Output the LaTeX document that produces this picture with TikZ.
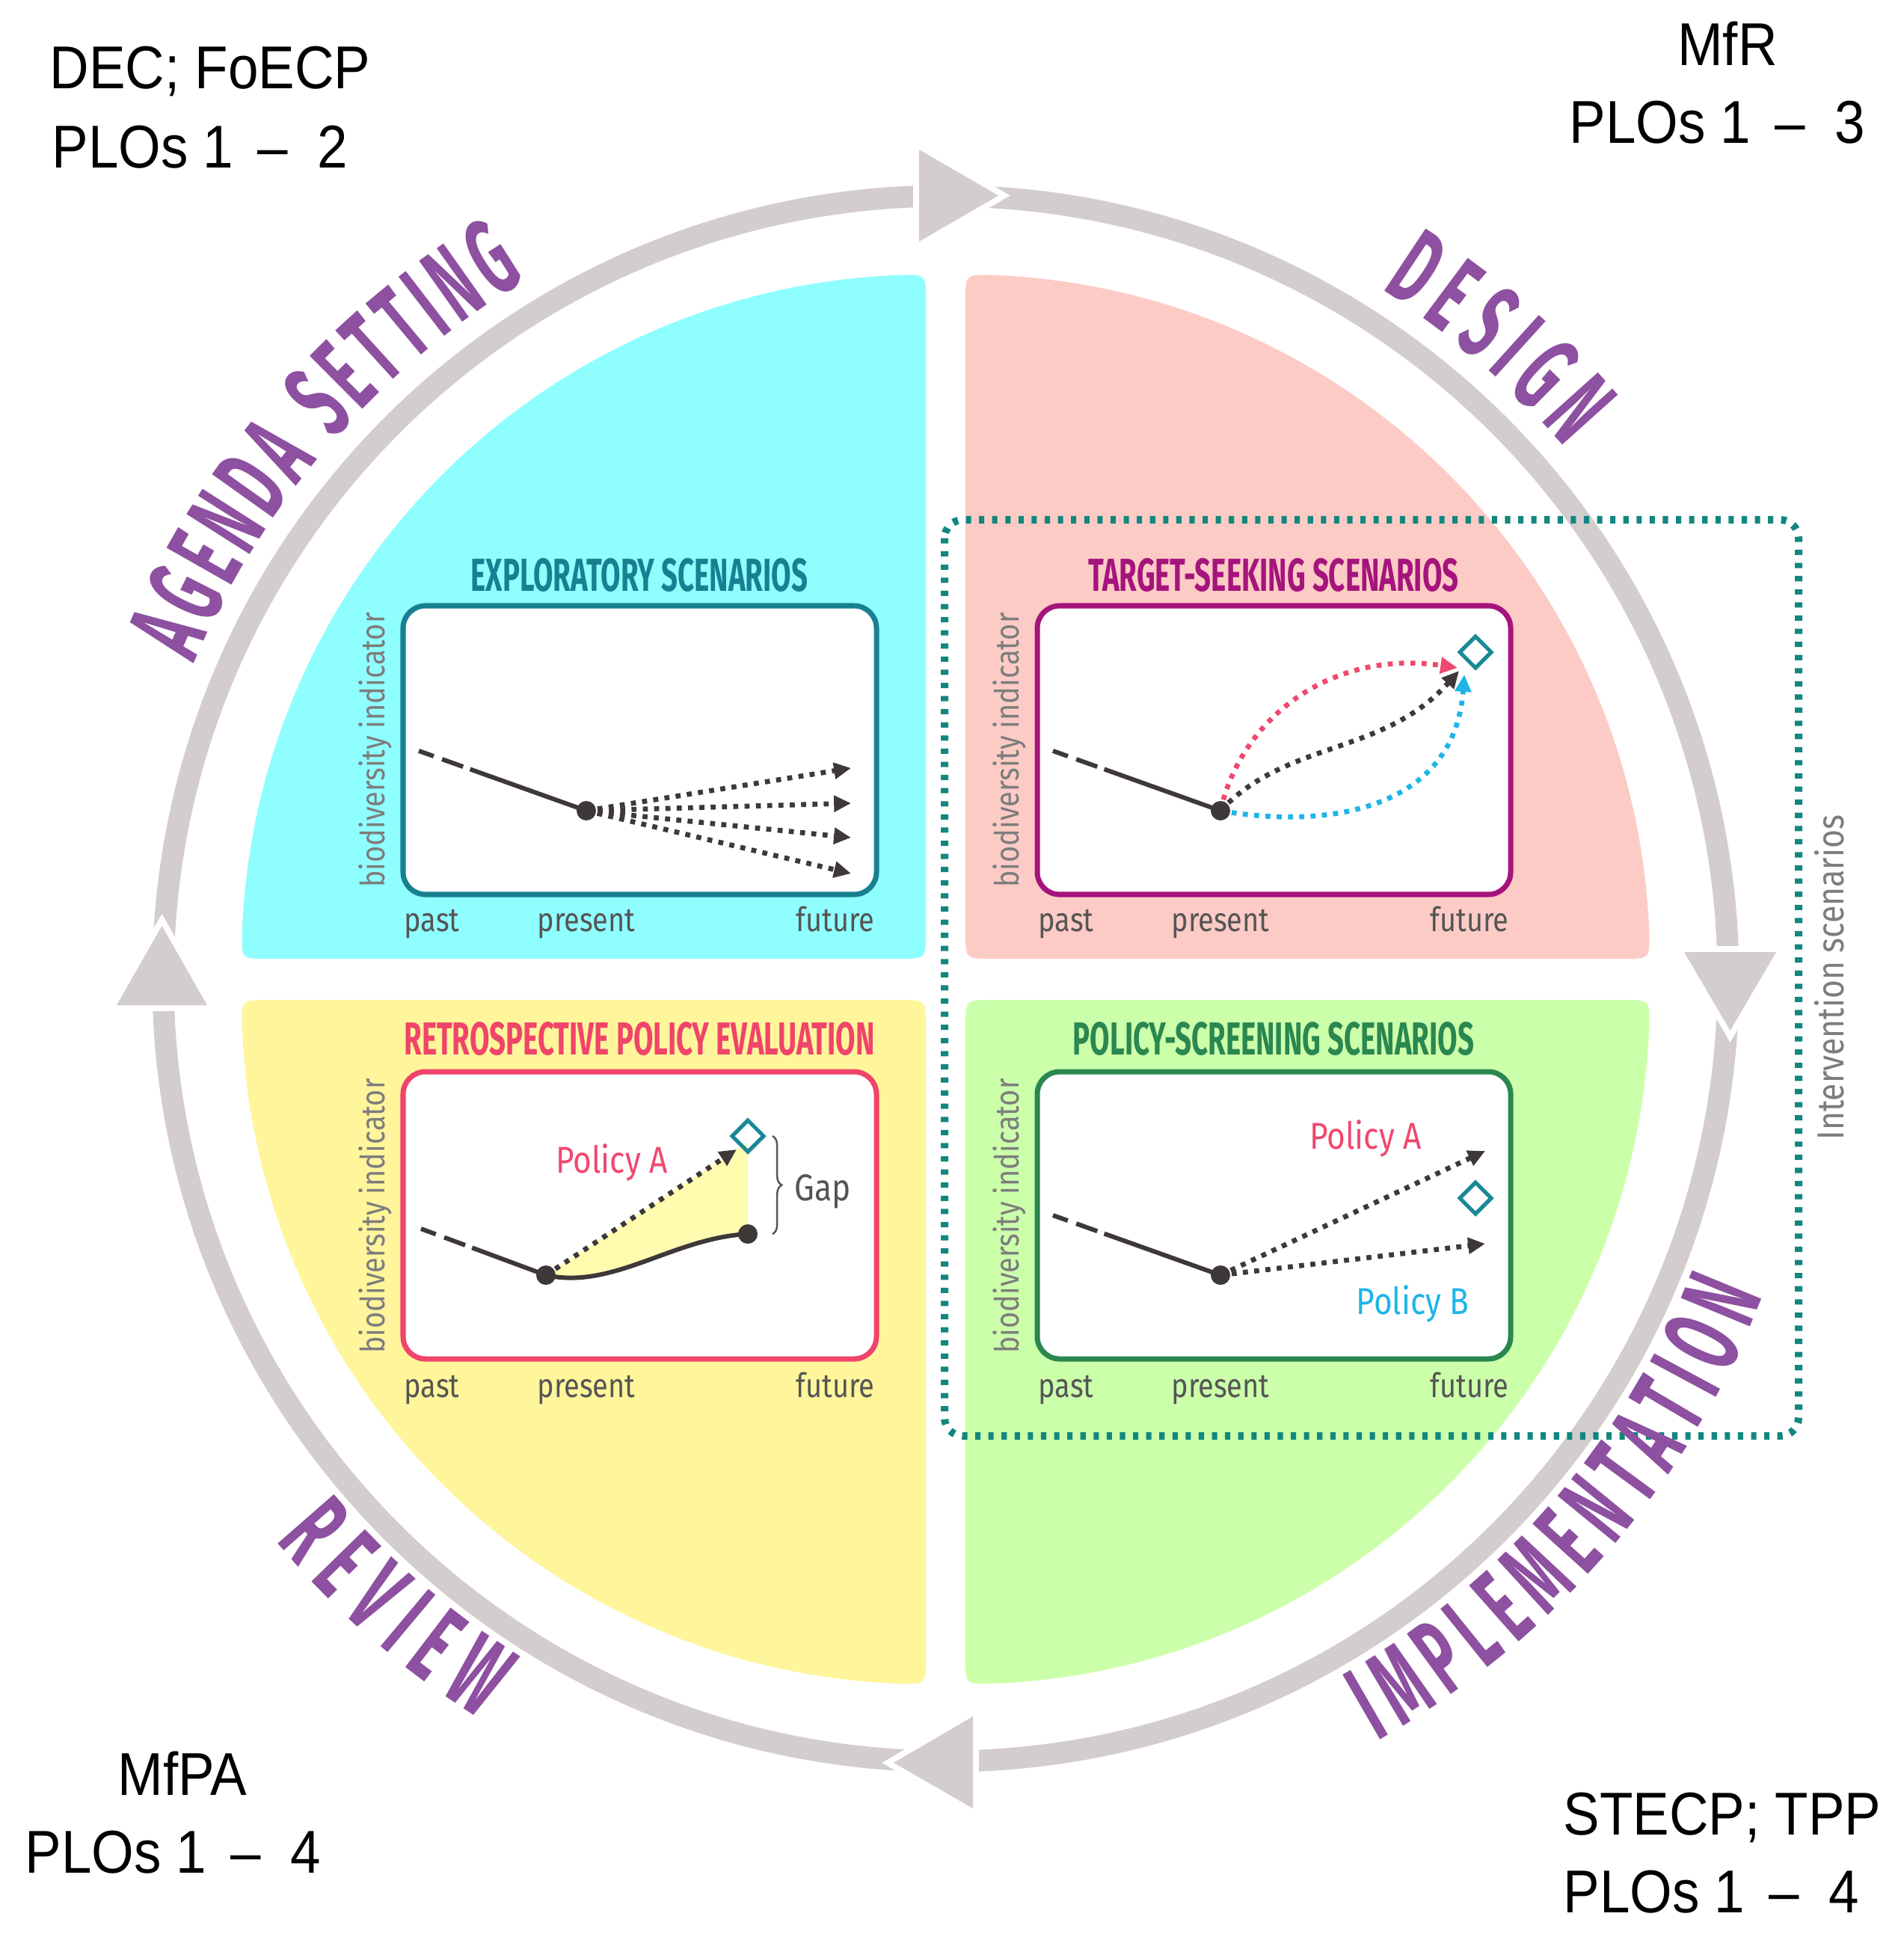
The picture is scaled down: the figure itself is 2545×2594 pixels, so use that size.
\documentclass[tikz,border=0pt]{standalone}
\usepackage{fontspec}
\setmainfont{Liberation Sans}
\newfontfamily\cornerfont[FakeStretch=0.9]{Liberation Sans}
\newfontfamily\titlefont[FakeStretch=0.62]{Fira Sans}
\newfontfamily\labfont[FakeStretch=0.85]{Fira Sans}
\newfontfamily\bigfont[FakeStretch=0.52]{Fira Sans}
\usetikzlibrary{decorations.text,decorations.pathreplacing,arrows.meta,calc}
\definecolor{ringgray}{RGB}{212,205,206}
\definecolor{qcyan}{RGB}{143,254,255}
\definecolor{qpink}{RGB}{253,203,197}
\definecolor{qyellow}{RGB}{255,245,155}
\definecolor{qgreen}{RGB}{204,255,170}
\definecolor{labpurple}{RGB}{142,80,160}
\definecolor{cteal}{RGB}{24,128,145}
\definecolor{cmag}{RGB}{165,20,125}
\definecolor{cred}{RGB}{240,68,106}
\definecolor{cgreen}{RGB}{42,135,80}
\definecolor{lineg}{RGB}{62,56,57}
\definecolor{pinkc}{RGB}{240,72,110}
\definecolor{bluec}{RGB}{30,180,232}
\definecolor{dteal}{RGB}{17,135,128}
\definecolor{diamc}{RGB}{25,138,150}
\definecolor{axisg}{RGB}{125,125,125}
\definecolor{tickg}{RGB}{85,85,85}
\definecolor{gapfill}{RGB}{255,252,175}
\newcommand\quadfill[1]{\fill[#1] (-35,0) -- (-880,0) .. controls (-915,0) .. (177.81:915) arc[start angle=177.81, end angle=92.19, radius=915] .. controls (0,915) .. (0,880) -- (0,35) .. controls (0,0) .. (-35,0) -- cycle;}
\newcommand\ringhead[3]{\draw[white, line width=4.5pt, line join=miter, fill=white] #1 -- #2 -- #3 -- cycle; \fill[ringgray] #1 -- #2 -- #3 -- cycle;}
\newcommand\diamondat[1]{\draw[diam] ($(#1)+(0,21)$) -- ++(21,-21) -- ++(-21,-21) -- ++(-21,21) -- cycle;}
\newcommand\pdash{\hspace{0.4em}–\hspace{0.48em}}
\begin{document}
\begin{tikzpicture}[x=0.01cm,y=0.01cm,
  cbox/.style={line width=2pt, rounded corners=8.5pt, fill=white},
  ctitle/.style={anchor=base, inner sep=0, font=\titlefont\bfseries\fontsize{17.6}{20}\selectfont},
  axlab/.style={rotate=90, inner sep=0, text=axisg, font=\labfont\fontsize{12.7}{14}\selectfont},
  ticklab/.style={inner sep=0, text=tickg, font=\labfont\fontsize{12.7}{14}\selectfont},
  hist/.style={lineg, line width=1.7pt, dash pattern=on 6pt off 3.4pt on 8.5pt off 2.8pt on 300pt},
  dotarrow/.style={line width=1.9pt, dash pattern=on 1.9pt off 2.4pt, -{Triangle[length=6.5pt,width=6pt]}},
  diam/.style={diamc, line width=1.5pt, line join=miter},
  cornertxt/.style={inner sep=0, font=\cornerfont\fontsize{23}{27}\selectfont},
  pol/.style={inner sep=0, font=\labfont\fontsize{14.2}{16}\selectfont},
  bigtxt/.style={decorate, decoration={text along path, text color=labpurple, text align={fit to path}, text={|\bigfont\bfseries\fontsize{41}{46}\selectfont|#1}}}
]
\useasboundingbox (0,0) rectangle (2545,-2594);
\fill[white] (0,0) rectangle (2545,-2594);
% quadrants
\begin{scope}[shift={(1238,-1282)}]\quadfill{qcyan}\end{scope}
\begin{scope}[shift={(1291,-1282)}, xscale=-1]\quadfill{qpink}\end{scope}
\begin{scope}[shift={(1238,-1337)}, yscale=-1]\quadfill{qyellow}\end{scope}
\begin{scope}[shift={(1291,-1337)}, xscale=-1, yscale=-1]\quadfill{qgreen}\end{scope}
% ring
\coordinate (ctr) at (1264.5,-1308.5);
\draw[ringgray, line width=8.25pt] (ctr) circle[radius=1046.5];
\ringhead{(1229,-200)}{(1335,-261.5)}{(1229,-323)}
\ringhead{(2252,-1273)}{(2313.5,-1378)}{(2375,-1273)}
\ringhead{(1301,-2295)}{(1195,-2357)}{(1301,-2418)}
\ringhead{(156,-1344)}{(216.5,-1238)}{(277,-1344)}
% intervention box
\draw[dteal, line width=2.85pt, dash pattern=on 2pt off 3pt, rounded corners=7pt] (1263,-695) rectangle (2405,-1920);
\node[rotate=90, inner sep=0, text=axisg, font=\labfont\fontsize{14.3}{16}\selectfont] (interv) at (2446,-1307) {Intervention scenarios};
% ---------- exploratory
\draw[cteal, cbox] (539,-810) rectangle (1172,-1196);
\node[ctitle, text=cteal] (t1) at (855,-790) {EXPLORATORY SCENARIOS};
\node[axlab] (a1) at (502,-1003) {biodiversity indicator};
\node[ticklab, anchor=base west] (p1) at (540,-1245) {past};
\node[ticklab, anchor=base] (n1) at (784,-1245) {present};
\node[ticklab, anchor=base east] (f1) at (1170,-1245) {future};
\coordinate (s1) at (560,-1004);
\coordinate (d1) at (784,-1084);
\draw[hist] (s1) -- (d1);
\foreach \yy [count=\i] in {-1027,-1074,-1120,-1168} {
  \coordinate (e1\i) at (1138,\yy);
  \draw[dotarrow, lineg] (d1) -- (e1\i);
}
\fill[lineg] (d1) circle[radius=13];
% ---------- target seeking
\draw[cmag, cbox] (1387,-810) rectangle (2020,-1196);
\node[ctitle, text=cmag] (t2) at (1703,-790) {TARGET-SEEKING SCENARIOS};
\node[axlab] (a2) at (1350,-1003) {biodiversity indicator};
\node[ticklab, anchor=base west] (p2) at (1388,-1245) {past};
\node[ticklab, anchor=base] (n2) at (1632,-1245) {present};
\node[ticklab, anchor=base east] (f2) at (2018,-1245) {future};
\coordinate (s2) at (1408,-1004);
\coordinate (d2) at (1632,-1084);
\coordinate (g2) at (1973,-872);
\draw[hist] (s2) -- (d2);
\draw[dotarrow, pinkc] (d2) .. controls (1660,-960) and (1780,-868) .. (1949,-893);
\draw[dotarrow, lineg] (d2) .. controls (1720,-990) and (1850,-1010) .. (1951,-897);
\draw[dotarrow, bluec] (d2) .. controls (1780,-1110) and (1945,-1080) .. (1958,-902);
\fill[lineg] (d2) circle[radius=13];
\diamondat{g2}
% ---------- retrospective
\draw[cred, cbox] (539,-1433) rectangle (1172,-1817);
\node[ctitle, text=cred] (t3) at (855,-1410) {RETROSPECTIVE POLICY EVALUATION};
\node[axlab] (a3) at (502,-1626) {biodiversity indicator};
\node[ticklab, anchor=base west] (p3) at (540,-1868) {past};
\node[ticklab, anchor=base] (n3) at (784,-1868) {present};
\node[ticklab, anchor=base east] (f3) at (1170,-1868) {future};
\coordinate (s3) at (563,-1643);
\coordinate (d3) at (730,-1705);
\coordinate (e3) at (985,-1537);
\coordinate (r3) at (1000,-1650);
\coordinate (g3) at (1000,-1519);
\fill[gapfill] (d3) -- (1000,-1527) -- (r3) .. controls (900,-1655) and (820,-1725) .. (d3) -- cycle;
\draw[hist] (s3) -- (d3);
\draw[lineg, line width=1.7pt] (d3) .. controls (820,-1725) and (900,-1655) .. (r3);
\draw[dotarrow, lineg] (d3) -- (e3);
\fill[lineg] (d3) circle[radius=13];
\fill[lineg] (r3) circle[radius=13];
\diamondat{g3}
\draw[tickg, line width=0.7pt, decorate, decoration={brace, amplitude=3.5pt}] (1033,-1519) -- (1033,-1650);
\node[pol, text=tickg, anchor=base] (gap) at (1100,-1605) {Gap};
\node[pol, text=pinkc, anchor=base] (pa3) at (818,-1568) {Policy A};
% ---------- policy screening
\draw[cgreen, cbox] (1387,-1433) rectangle (2020,-1817);
\node[ctitle, text=cgreen] (t4) at (1703,-1410) {POLICY-SCREENING SCENARIOS};
\node[axlab] (a4) at (1350,-1626) {biodiversity indicator};
\node[ticklab, anchor=base west] (p4) at (1388,-1868) {past};
\node[ticklab, anchor=base] (n4) at (1632,-1868) {present};
\node[ticklab, anchor=base east] (f4) at (2018,-1868) {future};
\coordinate (s4) at (1408,-1625);
\coordinate (d4) at (1632,-1705);
\coordinate (ea4) at (1986,-1539);
\coordinate (eb4) at (1986,-1663);
\coordinate (g4) at (1973,-1602);
\draw[hist] (s4) -- (d4);
\draw[dotarrow, lineg] (d4) -- (ea4);
\draw[dotarrow, lineg] (d4) -- (eb4);
\fill[lineg] (d4) circle[radius=13];
\diamondat{g4}
\node[pol, text=pinkc, anchor=base] (pa4) at (1826,-1536) {Policy A};
\node[pol, text=bluec, anchor=base] (pb4) at (1889,-1757) {Policy B};
% ---------- corner texts
\node[cornertxt, anchor=base west] (c1a) at (66,-119) {DEC; FoECP};
\node[cornertxt, anchor=base west] (c1b) at (69,-225) {PLOs 1\pdash 2};
\node[cornertxt, anchor=base] (c2a) at (2310,-88) {MfR};
\node[cornertxt, anchor=base west] (c2b) at (2098,-192) {PLOs 1\pdash 3};
\node[cornertxt, anchor=base] (c3a) at (244,-2400) {MfPA};
\node[cornertxt, anchor=base west] (c3b) at (33,-2504) {PLOs 1\pdash 4};
\node[cornertxt, anchor=base west] (c4a) at (2090,-2453) {STECP; TPP};
\node[cornertxt, anchor=base west] (c4b) at (2090,-2557) {PLOs 1\pdash 4};
% ---------- stage labels
\path[bigtxt={AGENDA SETTING}] (ctr) ++(157.2:1090) arc[start angle=157.2, end angle=121, radius=1090];
\path[bigtxt={DESIGN}] (ctr) ++(57.7:1090) arc[start angle=57.7, end angle=40.6, radius=1090];
\path[bigtxt={REVIEW}] (ctr) ++(220:1170) arc[start angle=220, end angle=237.8, radius=1170];
\path[bigtxt={IMPLEMENTATION}] (ctr) ++(299.5:1172) arc[start angle=299.5, end angle=338.8, radius=1172];
\end{tikzpicture}
\end{document}
